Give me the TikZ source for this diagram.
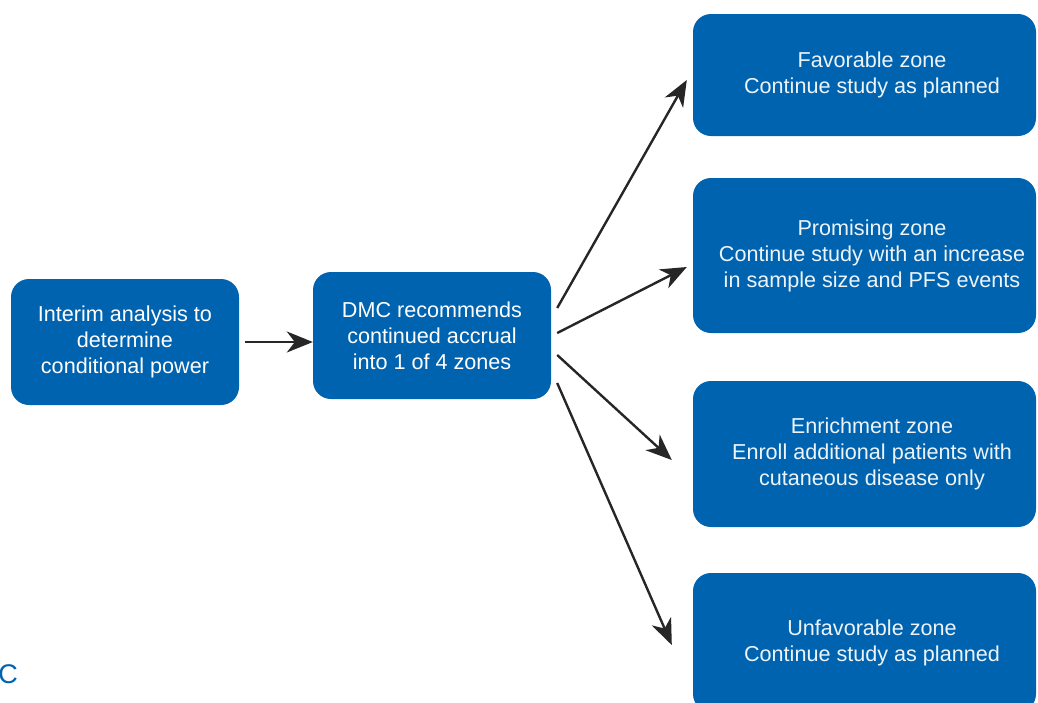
\documentclass[tikz,border=0pt]{standalone}
\usepackage{fontspec}
\setmainfont{Liberation Sans}
\usetikzlibrary{arrows.meta}
\definecolor{zoneblue}{RGB}{0,99,176}
\begin{document}
\begin{tikzpicture}[x=1pt,y=-1pt]
  \tikzstyle{box}=[rectangle,rounded corners=18pt,fill=zoneblue,text=white,align=center,inner sep=0pt,font=\fontsize{21.6}{26}\selectfont]
  \tikzstyle{boxtext}=[text=white!93!zoneblue,align=center,inner sep=0pt,font=\fontsize{21.6}{26}\selectfont]
  \tikzstyle{arr}=[-{Stealth[length=26pt,width=21pt,inset=8pt]},line width=2.4pt,draw=black!85]
  \useasboundingbox (0,0) rectangle (1038,702);
  \node[box,minimum width=228pt,minimum height=126pt] at (125,342) (interim) {Interim analysis to\\determine\\conditional power};
  \node[box,minimum width=238pt,minimum height=127pt] at (432,335.5) (dmc) {DMC recommends\\continued accrual\\into 1 of 4 zones};
  \foreach \n/\y/\h/\t in {fav/75/122/{Favorable zone\\Continue study as planned},
      prom/255.5/155/{Promising zone\\Continue study with an increase\\in sample size and PFS events},
      enr/454/146/{Enrichment zone\\Enroll additional patients with\\cutaneous disease only},
      unf/642.5/139/{Unfavorable zone\\Continue study as planned}}
    {\node[box,minimum width=343pt,minimum height=\h pt] at (864.5,\y) (\n) {};
     \node[boxtext] at (872,\y) (\n-text) {\t};}
  \node[text=zoneblue,font=\fontsize{27}{30}\selectfont] at (8,674) (panel) {C};
  \draw[arr] ([xshift=6pt]interim.east) -- (interim.east -| dmc.west);
  \foreach \n/\dy/\ex/\ey in {fav/-27.5/-6/5,prom/-2.5/-6/11.5,enr/19.5/-21/6,unf/47.5/-21/2.5}
    {\draw[arr] ([shift={(6,\dy)}]dmc.east) -- ([shift={(\ex,\ey)}]\n.west);}
\end{tikzpicture}
\end{document}
